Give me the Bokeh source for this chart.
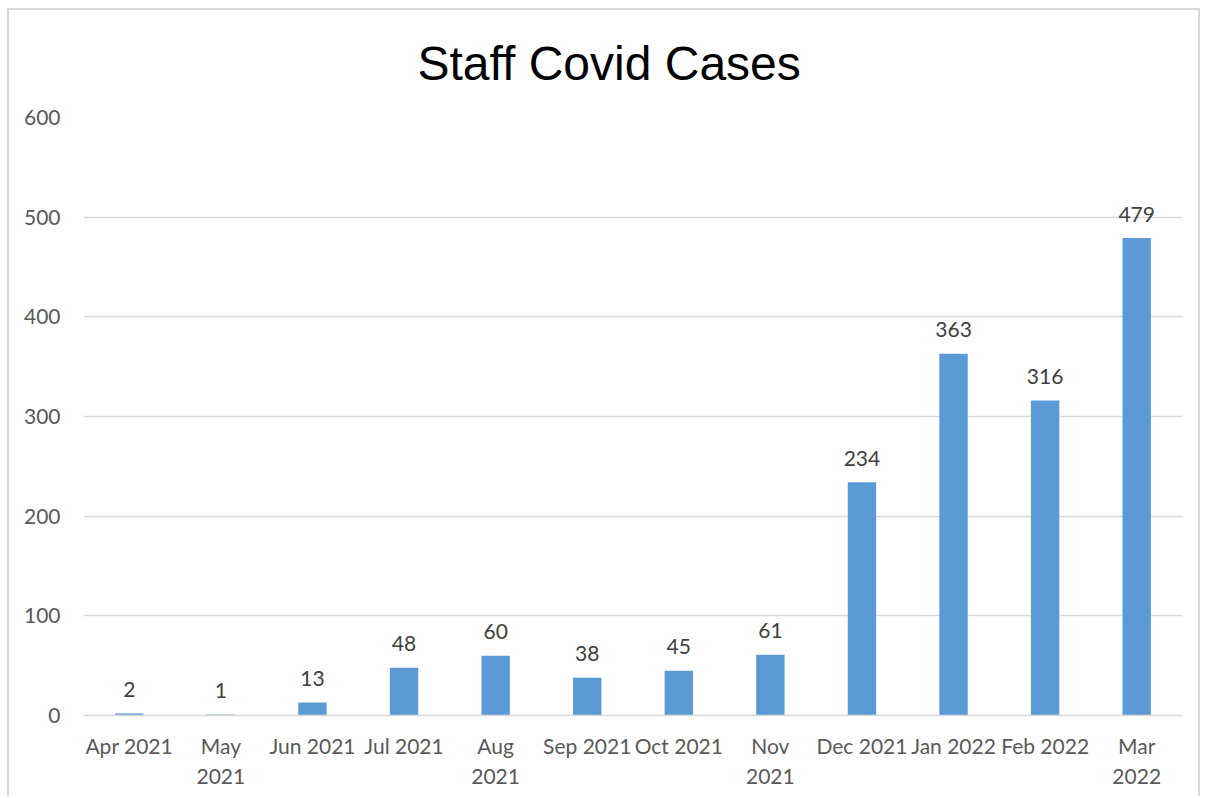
from bokeh.plotting import figure
from bokeh.models import ColumnDataSource, FactorRange, Range1d, FixedTicker
from bokeh.core.properties import value
from bokeh.embed import file_html
from bokeh.resources import INLINE

# Monthly staff covid cases
months = ["Apr 2021", "May\n2021", "Jun 2021", "Jul 2021", "Aug\n2021", "Sep 2021",
          "Oct 2021", "Nov\n2021", "Dec 2021", "Jan 2022", "Feb 2022", "Mar\n2022"]
cases = [2, 1, 13, 48, 60, 38, 45, 61, 234, 363, 316, 479]
y_ticks = [0, 100, 200, 300, 400, 500, 600]

FONT = "Lato"
GREY_TEXT = "#595959"
GRID = "#d9d9d9"
BAR = "#5b9bd5"

source = ColumnDataSource(dict(month=months, cases=cases,
                               label=[str(c) for c in cases]))

p = figure(
    title="Staff Covid Cases",
    x_range=FactorRange(*months, range_padding=0),
    y_range=Range1d(0, 600),
    width=1193, height=788,
    output_backend="svg", toolbar_location=None,
    min_border_left=74, min_border_right=20,
    min_border_top=107, min_border_bottom=83,
    background_fill_color="white", border_fill_color="white",
)
p.margin = (8, 0, 0, 7)
p.styles = {"border-top": "2px solid #d9d9d9",
            "border-left": "2px solid #d9d9d9",
            "border-right": "2px solid #d9d9d9"}
p.outline_line_color = None

# Title centred on the whole chart area rather than the plot frame
p.title.align = "left"
p.title.offset = 334
p.title.vertical_align = "top"
p.title.text_font = "Liberation Sans"
p.title.text_font_size = "48px"
p.title.text_font_style = "normal"
p.title.text_color = "black"
p.title.standoff = 51

p.vbar(x="month", top="cases", width=0.31, source=source,
       fill_color=BAR, line_color=None)

p.text(x="month", y="cases", text="label", source=source,
       text_align="center", text_baseline="alphabetic", y_offset=-24,
       text_font=value(FONT), text_font_size="21px", text_color="#404040")

# Grid and axes
p.xgrid.grid_line_color = None
p.ygrid.grid_line_color = GRID
p.ygrid.grid_line_width = 1.5
p.yaxis.ticker = FixedTicker(ticks=y_ticks)
p.yaxis.axis_line_color = None
p.yaxis.major_tick_line_color = None
p.yaxis.minor_tick_line_color = None
p.yaxis.major_label_standoff = 17
p.yaxis.major_label_text_font = FONT
p.yaxis.major_label_text_font_size = "21px"
p.yaxis.major_label_text_color = GREY_TEXT

p.xaxis.axis_line_color = GRID
p.xaxis.axis_line_width = 1.5
p.xaxis.major_tick_line_color = None
p.xaxis.minor_tick_line_color = None
p.xaxis.major_label_standoff = 11
p.xaxis.major_label_text_font = FONT
p.xaxis.major_label_text_font_size = "21px"
p.xaxis.major_label_text_color = GREY_TEXT
p.xaxis.major_label_text_line_height = 1.22

open("out.html", "w").write(file_html(p, INLINE))
